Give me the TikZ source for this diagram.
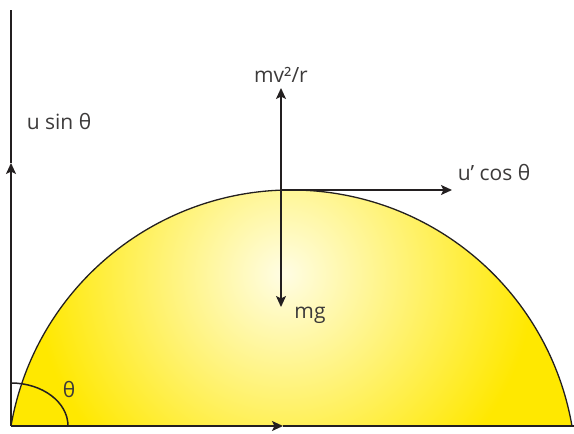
\documentclass[tikz,border=0pt]{standalone}
\usepackage{fontspec}
\setmainfont{Open Sans}
\usetikzlibrary{arrows.meta}
\definecolor{segyellow}{RGB}{255,232,0}
\definecolor{segwhite}{RGB}{255,253,228}
\definecolor{ink}{RGB}{35,31,32}
\definecolor{txt}{RGB}{60,58,58}
\tikzset{
  x=1pt, y=1pt,
  line/.style={draw=ink, line width=1.5pt},
  arr/.style={line, -{Stealth[length=11pt,width=10pt,inset=2.5pt]}},
  lbl/.style={font=\fontsize{21}{24}\selectfont, text=txt, inner sep=0pt}
}
\begin{document}
\begin{tikzpicture}
\useasboundingbox (0,0) rectangle (574,434);
% key points
\coordinate (O) at (11,8);
\coordinate (E) at (572,8);
\coordinate (Bend) at (574,8);
\coordinate (Bmid) at (283,8);
\coordinate (Vtop) at (11,424);
\coordinate (Vmid) at (11,271);
\coordinate (T) at (281,244);
\coordinate (Up) at (281,346);
\coordinate (Down) at (281,127);
\coordinate (Right) at (452,244);
\coordinate (Aend) at (68,8);
% yellow segment with radial gradient
\fill[segyellow] (O) arc[start angle=170.15, end angle=9.85, radius=284.7] -- cycle;
\begin{scope}
  \clip (O) arc[start angle=170.15, end angle=9.85, radius=284.7] -- cycle;
  \shade[inner color=segwhite, outer color=segyellow] (284,160) circle (250);
\end{scope}
\draw[line, line width=1.3pt] (O) arc[start angle=170.15, end angle=9.85, radius=284.7];
% base line with mid arrow
\draw[arr] (O) -- (Bmid);
\draw[line] (Bmid) -- (Bend);
% left vertical line with mid arrow
\draw[arr] (O) -- (Vmid);
\draw[line] (Vmid) -- (Vtop);
% angle arc
\draw[line] (Aend) arc[start angle=0, end angle=90, x radius=57, y radius=43];
% forces at top
\draw[arr] (T) -- (Up);
\draw[arr] (T) -- (Down);
\draw[arr] (T) -- (Right);
% labels
\node[lbl] (lmv) at (281,359) {mv²/r};
\node[lbl] (lmg) at (310,119) {mg};
\node[lbl] (lu1) at (494,261) {u’ cos θ};
\node[lbl] (lu2) at (59,312) {u sin θ};
\node[lbl] (lth) at (69,44) {θ};
\end{tikzpicture}
\end{document}
